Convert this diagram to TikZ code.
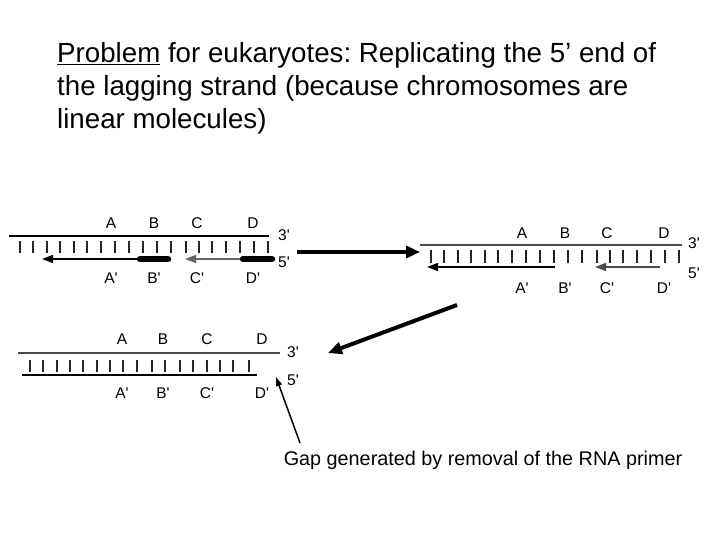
\documentclass[tikz,border=0pt]{standalone}
\usepackage{fontspec}
\setmainfont{Liberation Sans}
\usetikzlibrary{arrows.meta,positioning,calc}
\newcommand{\pr}{\textquotesingle}
\frenchspacing
\begin{document}
\begin{tikzpicture}[x=1pt,y=-1pt,
  lbl/.style={font=\fontsize{15.5}{17}\selectfont,inner sep=0pt},
  strand/.style={line width=1.5pt},
  tick/.style={line width=1.6pt,black!85},
  newdna/.style={line width=1.4pt,-{Triangle[length=11pt,width=8pt]}},
  primer/.style={line width=6.5pt,line cap=round},
  bigarrow/.style={line width=4pt,-{Triangle[length=14pt,width=12pt]}}]
  \useasboundingbox (0,0) rectangle (720,540);
  \node[anchor=west,align=left,inner sep=0pt,font=\fontsize{27.7}{33}\selectfont] (title) at (57,88)
    {\underline{Problem} for eukaryotes: Replicating the 5’ end of\\the lagging strand (because chromosomes are\\linear molecules)};
  % lagging strand with primers still in place
  \begin{scope}[shift={(9,236)}]
    \draw[strand] (0,0) -- (260,0);
    \foreach \t in {11,24,38,51,65,78,92,106,120,134,148,162,177,190,203,217,231,245,259}
      \draw[tick] (\t,5) -- (\t,17);
    \draw[newdna] (159,23) -- (33,23);
    \draw[primer] (131,23) -- (159,23);
    \draw[newdna,black!60] (263,23) -- (176,23);
    \draw[primer] (234,23) -- (263,23);
    \foreach \n/\x in {A/102,B/145,C/188,D/244}{
      \node[lbl] (one\n) at (\x,-13) {\n};
      \node[lbl] (one\n p) at (\x,42) {\n\pr};
    }
    \node[lbl] (onethree) at (275,-1) {3\pr};
    \node[lbl] (onefive) at (275,26) {5\pr};
  \end{scope}
  % primers removed, gaps filled
  \begin{scope}[shift={(420,245)}]
    \draw[strand,black!70] (0,0) -- (262,0);
    \foreach \t in {11,24,38,51,65,78,92,106,120,134,148,162,177,190,203,217,231,245,259}
      \draw[tick] (\t,5) -- (\t,18);
    \draw[newdna] (135,22) -- (7,22);
    \draw[newdna,black!70] (240,22) -- (175,22);
    \foreach \n/\x in {A/102,B/145,C/187,D/244}{
      \node[lbl] (two\n) at (\x,-12) {\n};
      \node[lbl] (two\n p) at (\x,43) {\n\pr};
    }
    \node[lbl] (twothree) at (274,-2) {3\pr};
    \node[lbl] (twofive) at (274,28) {5\pr};
  \end{scope}
  % joined strand, 5' end left short
  \begin{scope}[shift={(18,353)}]
    \draw[strand,black!70] (0,0) -- (262,0);
    \foreach \t in {12,25,39,52,65,79,92,105,119,134,147,162,175,189,202,215,231}
      \draw[tick] (\t,7) -- (\t,19);
    \draw[strand] (4,22) -- (239,22);
    \foreach \n/\x in {A/104,B/145,C/189,D/244}{
      \node[lbl] (three\n) at (\x,-14) {\n};
      \node[lbl] (three\n p) at (\x,40) {\n\pr};
    }
    \node[lbl] (threethree) at (275,-1) {3\pr};
    \node[lbl] (threefive) at (275,27) {5\pr};
  \end{scope}
  \node[inner sep=0pt,font=\fontsize{19.8}{22}\selectfont] (gap) at (483,460) {Gap generated by removal of the RNA primer};
  \coordinate (oneout) at (297,252);
  \coordinate (twoin) at (420,252);
  \coordinate (twoout) at (457,305);
  \coordinate (threein) at (328,353);
  \coordinate (gaptail) at (300,443);
  \coordinate (gaptip) at (276,377);
  \draw[bigarrow] (oneout) -- (twoin);
  \draw[bigarrow] (twoout) -- (threein);
  \draw[line width=1.5pt,-{Triangle[length=9pt,width=6pt]}] (gaptail) -- (gaptip);
\end{tikzpicture}
\end{document}
